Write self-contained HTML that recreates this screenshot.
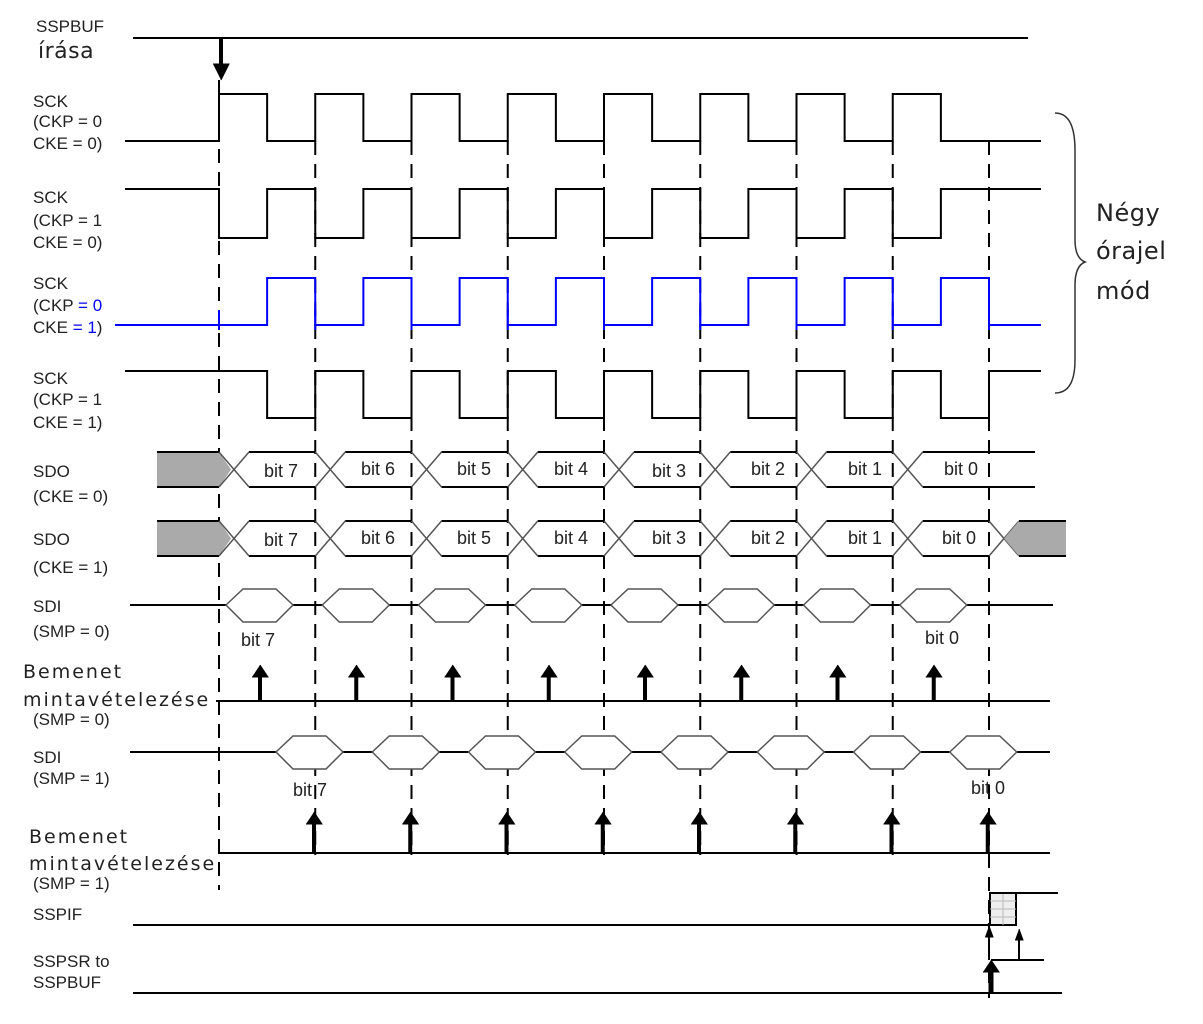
<!DOCTYPE html>
<html><head><meta charset="utf-8"><style>
body{margin:0;background:#fff}
svg{display:block}
text{font-family:"Liberation Sans",sans-serif;font-size:17px;fill:#222}
.b{font-family:"DejaVu Sans","Liberation Sans",sans-serif;font-size:19px;letter-spacing:0.5px}
.m{letter-spacing:2px}
.bit{font-size:18px}
</style></head><body>
<svg id="s" width="1203" height="1024" viewBox="0 0 1203 1024" xmlns="http://www.w3.org/2000/svg">
<g id="g"></g>
<text x="36" y="32">SSPBUF</text>
<text x="38" y="58" class="b" style="font-size:22px">írása</text>
<text x="33" y="107">SCK</text><text x="33" y="127">(CKP = 0</text><text x="33" y="149">CKE = 0)</text>
<text x="33" y="203">SCK</text><text x="33" y="226">(CKP = 1</text><text x="33" y="248">CKE = 0)</text>
<text x="33" y="289">SCK</text><text x="33" y="311">(CKP <tspan fill="#00f">= 0</tspan></text><text x="33" y="333">CKE <tspan fill="#00f">= 1</tspan>)</text>
<text x="33" y="384">SCK</text><text x="33" y="405">(CKP = 1</text><text x="33" y="428">CKE = 1)</text>
<text x="33" y="477">SDO</text><text x="33" y="502">(CKE = 0)</text>
<text x="33" y="545">SDO</text><text x="33" y="573">(CKE = 1)</text>
<text x="33" y="612">SDI</text><text x="33" y="637">(SMP = 0)</text>
<text x="23" y="678" class="b m">Bemenet</text><text x="23" y="706" class="b m">mintavételezése</text><text x="33" y="725">(SMP = 0)</text>
<text x="33" y="763">SDI</text><text x="33" y="784">(SMP = 1)</text>
<text x="29" y="843" class="b m">Bemenet</text><text x="29" y="870" class="b m">mintavételezése</text><text x="33" y="889">(SMP = 1)</text>
<text x="33" y="920">SSPIF</text>
<text x="33" y="967">SSPSR to</text><text x="33" y="988">SSPBUF</text>
<text x="1096" y="221" class="b" style="font-size:24px">Négy</text>
<text x="1096" y="259" class="b" style="font-size:24px">órajel</text>
<text x="1096" y="299" class="b" style="font-size:24px">mód</text>
<text x="281" y="477" class="bit" text-anchor="middle">bit 7</text>
<text x="378" y="475" class="bit" text-anchor="middle">bit 6</text>
<text x="474" y="475" class="bit" text-anchor="middle">bit 5</text>
<text x="571" y="475" class="bit" text-anchor="middle">bit 4</text>
<text x="669" y="477" class="bit" text-anchor="middle">bit 3</text>
<text x="768" y="475" class="bit" text-anchor="middle">bit 2</text>
<text x="865" y="475" class="bit" text-anchor="middle">bit 1</text>
<text x="961" y="475" class="bit" text-anchor="middle">bit 0</text>
<text x="281" y="546" class="bit" text-anchor="middle">bit 7</text>
<text x="378" y="544" class="bit" text-anchor="middle">bit 6</text>
<text x="474" y="544" class="bit" text-anchor="middle">bit 5</text>
<text x="571" y="544" class="bit" text-anchor="middle">bit 4</text>
<text x="669" y="544" class="bit" text-anchor="middle">bit 3</text>
<text x="768" y="544" class="bit" text-anchor="middle">bit 2</text>
<text x="865" y="544" class="bit" text-anchor="middle">bit 1</text>
<text x="959" y="544" class="bit" text-anchor="middle">bit 0</text>
<text x="258" y="646" class="bit" text-anchor="middle">bit 7</text>
<text x="942" y="644" class="bit" text-anchor="middle">bit 0</text>
<text x="310" y="796" class="bit" text-anchor="middle">bit 7</text>
<text x="988" y="794" class="bit" text-anchor="middle">bit 0</text>
</svg>
<script>
var g=document.getElementById('g'),NS='http://www.w3.org/2000/svg';
function el(t,a){var e=document.createElementNS(NS,t);for(var k in a)e.setAttribute(k,a[k]);g.appendChild(e);return e;}
function pl(pts,c,w,f){return el('polyline',{points:pts.map(p=>p.join(',')).join(' '),fill:f||'none',stroke:c||'#000','stroke-width':w||2});}
function ln(x1,y1,x2,y2,c,w,d){var a={x1:x1,y1:y1,x2:x2,y2:y2,stroke:c||'#000','stroke-width':w||2};if(d)a['stroke-dasharray']=d;return el('line',a);}
var P=96.25,E0=219;
function E(k){return E0+k*P/2;}
ln(219,80,219,890,'#000',2,'14,9');
for(var k=1;k<8;k++){var x=E(2*k);ln(x,141,x,855,'#000',2,'14,9');}
ln(989,141,989,998,'#000',2,'14,9');
ln(133,38,1028,38);
ln(221,38,221,66,'#000',4);pl([[213,64],[229,64],[221,80]],'#000',1,'#000');
(function(){var p=[[125,141]],l=0;for(var k=0;k<16;k++){var x=E(k);p.push([x,l?94:141]);l=1-l;p.push([x,l?94:141]);}p.push([1041,l?94:141]);pl(p);})();
(function(){var p=[[125,189]],l=1;for(var k=0;k<16;k++){var x=E(k);p.push([x,l?189:238]);l=1-l;p.push([x,l?189:238]);}p.push([1041,l?189:238]);pl(p);})();
(function(){var p=[[115,325]],l=0;for(var k=1;k<17;k++){var x=E(k);p.push([x,l?278:325]);l=1-l;p.push([x,l?278:325]);}p.push([1041,l?278:325]);pl(p,'#00f');})();
(function(){var p=[[125,371]],l=1;for(var k=1;k<17;k++){var x=E(k);p.push([x,l?371:418]);l=1-l;p.push([x,l?371:418]);}p.push([1041,l?371:418]);pl(p);})();
for(var k=0;k<9;k++){ln(E(2*k),310,E(2*k),330,'#00f',2);}
el('path',{d:'M1055,113 Q1075,113 1075,150 L1075,240 Q1075,258 1085,262 Q1075,266 1075,285 L1075,360 Q1075,393 1055,393',fill:'none',stroke:'#333','stroke-width':1.5});
function sdo(top,bot,endGrey){var m=(top+bot)/2,gc='#555';
 el('polygon',{points:[[157,top],[219,top],[231,m],[219,bot],[157,bot]].join(' '),fill:'#aaa',stroke:'none'});
 ln(157,top,219,top,'#000',2);ln(157,bot,219,bot,'#000',2);
 for(var k=0;k<8;k++){var x=E(2*k),x2=E(2*k+2);var last=k==7;
  var xe=last?(endGrey?989:1035):x2;
  pl([[x+30,top],[xe,top]],'#000',2);pl([[x+30,bot],[xe,bot]],'#000',2);
  ln(x,top,x+30,bot,gc,1.5);ln(x,bot,x+30,top,gc,1.5);}
 if(endGrey){var x=989;ln(x,top,x+30,bot,gc,1.5);ln(x,bot,x+30,top,gc,1.5);
  el('polygon',{points:[[1004,m],[1019,top],[1066,top],[1066,bot],[1019,bot]].join(' '),fill:'#aaa',stroke:'none'});
  ln(1019,top,1066,top);ln(1019,bot,1066,bot);}
}
sdo(452,487,false);sdo(521,556,true);
function sdi(y,x0,x1,starts,w){ln(x0,y,x1,y);
 starts.forEach(function(s){var e=s+w;el('polygon',{points:[[s,y],[s+17,y-16],[e-17,y-16],[e,y],[e-17,y+17],[s+17,y+17]].join(' '),fill:'#fff',stroke:'#555','stroke-width':1.5});});}
var s0=[],s1=[];for(var k=0;k<8;k++){s0.push(226+k*P);s1.push(276+k*P);}
sdi(605,130,1053,s0,67);sdi(752,130,1050,s1,67);
function arr(x,yb,yt,w){ln(x,yb,x,yt+10,'#000',w||4);pl([[x-8,yt+12],[x+8,yt+12],[x,yt]],'#000',1,'#000');}
ln(216,701,1050,701);for(var k=0;k<8;k++)arr(260+k*P,701,665);
ln(218,853,1050,853);for(var k=0;k<8;k++)arr(314+k*P,853,812);
ln(133,925,989,925);
el('rect',{x:990,y:893,width:26,height:32,fill:'#eee',stroke:'#000','stroke-width':2});
for(var i=1;i<4;i++)ln(990,893+i*8,1016,893+i*8,'#bbb',1);ln(1003,893,1003,925,'#bbb',1);
ln(989,893,1058,893);
ln(133,993,1062,993);
arr(991,993,960,5);
ln(991,960,1044,960);
ln(989,960,989,935,'#000',2);pl([[985,937],[993,937],[989,926]],'#000',1,'#000');
ln(1019,960,1019,938,'#000',2);pl([[1015,940],[1023,940],[1019,929]],'#000',1,'#000');
</script>
</body></html>
